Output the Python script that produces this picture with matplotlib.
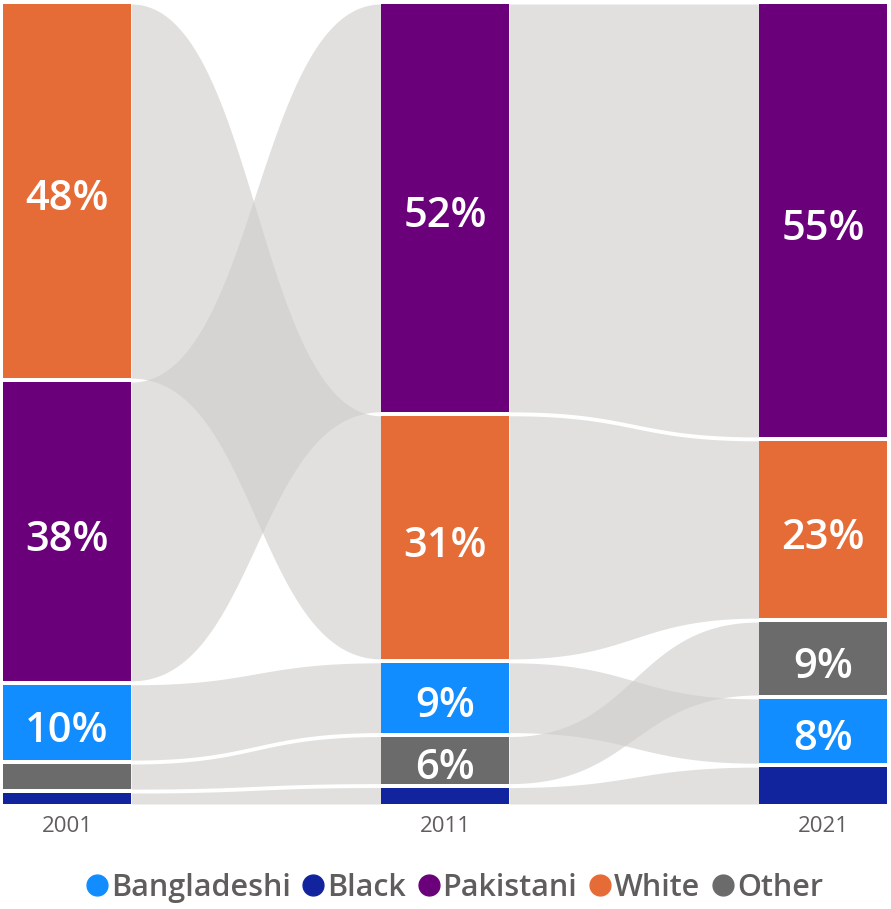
import numpy as np
import matplotlib.pyplot as plt
from matplotlib.lines import Line2D

# dados (percentagens por ano)
anos = ['2001', '2011', '2021']
categorias = ['Bangladeshi', 'Black', 'Pakistani', 'White', 'Other']
cores = ['#118DFF', '#12239E', '#6B007B', '#E66C37', '#6B6B6B']
bangladeshi = [9.6, 8.9, 8.2]
black = [1.4, 2.1, 4.7]
pakistani = [38.1, 52.0, 55.2]
white = [47.7, 31.0, 22.6]
other = [3.2, 6.0, 9.3]

valores = np.array([bangladeshi, black, pakistani, white, other])

plt.rcParams['font.family'] = ['Open Sans', 'DejaVu Sans']

fig = plt.figure(figsize=(8.91, 9.09), dpi=100)
W, H = 891, 909
ax = fig.add_axes([3 / W, 1 - 804 / H, 884 / W, 800 / H])

gap = 0.5
meia = 0.1695
total = valores.sum(axis=0).max() + 4 * gap

# posições empilhadas (maior no topo)
topo = np.zeros_like(valores)
base = np.zeros_like(valores)
for j in range(len(anos)):
    ordem = np.argsort(-valores[:, j])
    y = 0.0
    for i in ordem:
        topo[i, j] = y
        base[i, j] = y + valores[i, j]
        y = base[i, j] + gap

# fitas cinzentas entre colunas (curva bezier com tangentes horizontais)
t = np.linspace(0, 1, 300)
bx = 1.5 * t * (1 - t) + t ** 3
by = 3 * t ** 2 - 2 * t ** 3
for j in range(len(anos) - 1):
    x = (j + meia) + (1 - 2 * meia) * bx
    for i in range(len(categorias)):
        y_top = topo[i, j] + (topo[i, j + 1] - topo[i, j]) * by
        y_bot = base[i, j] + (base[i, j + 1] - base[i, j]) * by
        ax.fill_between(x, y_top, y_bot, color='#cdccca', alpha=0.6, lw=0)

# barras
for i, cat in enumerate(categorias):
    ax.bar(range(len(anos)), valores[i], bottom=topo[i], width=2 * meia,
           color=cores[i], linewidth=0, zorder=3)
    for j in range(len(anos)):
        v = valores[i, j]
        if round(v) >= 6:
            ax.annotate(f'{round(v)}%', (j, topo[i, j] + v / 2), xytext=(0, -6),
                        textcoords='offset points', ha='center', va='center',
                        color='white', fontsize=30, fontweight='semibold', zorder=4)

ax.set_xlim(-meia, 2 + meia)
ax.set_ylim(total, 0)
ax.set_yticks([])
ax.set_xticks(range(len(anos)))
ax.set_xticklabels(anos, fontsize=16, color='#605E5C')
ax.tick_params(axis='x', length=0, pad=9)
for sp in ax.spines.values():
    sp.set_visible(False)

handles = [Line2D([], [], marker='o', linestyle='', markersize=15, color=c) for c in cores]
fig.legend(handles, categorias, loc='center', bbox_to_anchor=(0.511, 1 - 888 / H), ncol=5,
           frameon=False, handlelength=0.6, handletextpad=0.15, columnspacing=0.45,
           prop={'size': 22, 'weight': 'semibold'}, labelcolor='#605E5C')

fig.savefig('out.png', dpi=100)
